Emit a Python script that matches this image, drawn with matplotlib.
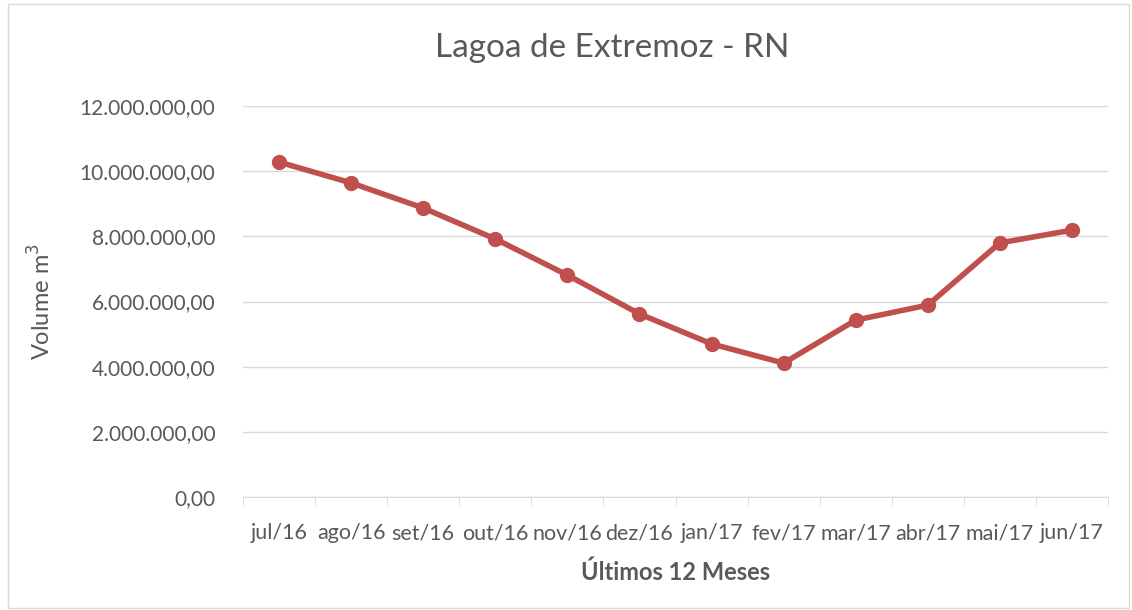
import matplotlib.pyplot as plt
from matplotlib.ticker import FuncFormatter
from matplotlib.patches import Rectangle

plt.rcParams['font.family'] = ['Lato', 'DejaVu Sans']

meses = ["jul/16", "ago/16", "set/16", "out/16", "nov/16", "dez/16",
         "jan/17", "fev/17", "mar/17", "abr/17", "mai/17", "jun/17"]
volume = [10280000, 9640000, 8870000, 7920000, 6810000, 5620000,
          4700000, 4110000, 5430000, 5890000, 7800000, 8190000]
y_ticks = [0, 2000000, 4000000, 6000000, 8000000, 10000000, 12000000]


def fmt_br(v, pos=None):
    s = "{:,.2f}".format(v)
    return s.replace(",", "X").replace(".", ",").replace("X", ".")


fig = plt.figure(figsize=(11.32, 6.10), dpi=100)
ax = fig.add_axes([0.2147, 0.1852, 0.7641, 0.6410])

# moldura do gráfico
fig.patches.append(Rectangle((0.007, 0.004), 0.99, 0.99, transform=fig.transFigure,
                             fill=False, edgecolor='#d9d9d9', linewidth=1))

x = list(range(len(meses)))
ax.plot(x, volume, color='#c0504d', linewidth=4, marker='o', markersize=10,
        solid_capstyle='round', zorder=3)

ax.set_xlim(-0.5, len(meses) - 0.5)
ax.set_ylim(0, 12000000)
ax.set_yticks(y_ticks)
ax.yaxis.set_major_formatter(FuncFormatter(fmt_br))
ax.set_xticks(x)
ax.set_xticklabels(meses)
ax.set_xticks([i - 0.5 for i in range(len(meses) + 1)], minor=True)

ax.grid(axis='y', color='#d9d9d9', linewidth=1)
ax.set_axisbelow(True)
for s in ['top', 'right', 'left']:
    ax.spines[s].set_visible(False)
ax.spines['bottom'].set_color('#d9d9d9')
ax.tick_params(axis='y', length=0, labelsize=15, labelcolor='#595959', pad=20)
ax.tick_params(axis='x', which='major', length=0, labelsize=15.5, labelcolor='#595959', pad=19)
ax.tick_params(axis='x', which='minor', length=6, color='#d9d9d9')

fig.text(0.541, 0.922, "Lagoa de Extremoz - RN", fontsize=24, color='#595959',
         ha='center', va='center')
ax.set_xlabel("Últimos 12 Meses", fontsize=17, fontweight='bold', color='#595959', labelpad=12)
ax.set_ylabel("Volume m$^3$", fontsize=17, color='#595959', labelpad=18)

fig.savefig("out.png", dpi=100)
